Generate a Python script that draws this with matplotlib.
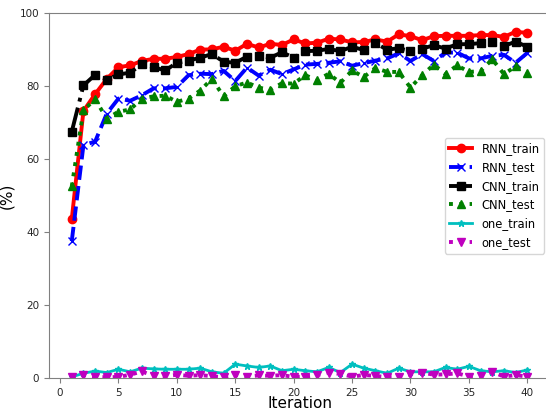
import numpy as np
import matplotlib
matplotlib.use("Agg")
import matplotlib.pyplot as plt

iterations = np.arange(1, 41)

rnn_train = [43.5, 73.2, 77.8, 82.0, 85.2, 85.7, 86.9, 87.5, 87.5, 88.0,
             88.8, 90.0, 90.1, 90.8, 89.7, 91.6, 90.6, 91.6, 91.3, 92.8,
             91.7, 91.9, 93.0, 92.8, 92.0, 92.1, 92.8, 92.2, 94.2, 93.7,
             92.6, 93.7, 93.8, 93.8, 93.8, 94.0, 94.0, 93.5, 94.9, 94.6]
rnn_test = [37.5, 63.8, 64.8, 72.5, 76.6, 76.0, 77.5, 79.4, 79.4, 79.8,
            83.0, 83.4, 83.3, 84.2, 81.4, 85.1, 82.9, 84.5, 83.3, 84.6,
            85.9, 86.1, 86.4, 86.8, 85.6, 86.3, 87.0, 87.6, 89.0, 86.9,
            88.8, 86.9, 89.2, 89.2, 87.6, 87.6, 88.3, 88.6, 86.4, 89.1]
cnn_train = [67.5, 80.2, 83.1, 81.8, 83.2, 83.7, 86.0, 85.2, 84.3, 86.4,
             87.0, 87.8, 88.8, 86.7, 86.4, 88.1, 88.2, 87.8, 89.3, 87.8,
             89.6, 89.7, 90.2, 89.6, 90.8, 89.9, 91.8, 90.0, 90.4, 89.6,
             90.3, 91.2, 90.3, 91.5, 91.5, 91.8, 92.1, 91.0, 92.2, 90.8]
cnn_test = [52.5, 73.4, 76.4, 71.1, 73.0, 73.6, 76.6, 77.2, 77.4, 75.7,
            76.6, 78.8, 82.0, 77.2, 80.0, 81.0, 79.6, 79.0, 80.8, 80.7,
            83.0, 81.6, 83.4, 80.9, 84.3, 82.5, 85.0, 83.9, 83.9, 79.6,
            83.0, 85.9, 83.3, 85.7, 83.9, 84.1, 87.4, 83.3, 85.4, 83.6]
one_train = [0.3, 1.3, 1.9, 1.5, 2.4, 1.7, 2.7, 2.5, 2.4, 2.4,
             2.4, 2.7, 1.7, 1.3, 3.8, 3.3, 2.9, 3.3, 2.0, 2.4,
             2.0, 1.7, 2.9, 1.5, 3.8, 2.7, 2.0, 1.3, 2.7, 1.7,
             1.7, 1.7, 2.9, 2.4, 3.2, 2.0, 1.7, 2.0, 1.5, 2.2]
one_test = [0.3, 0.8, 0.4, 0.2, 0.3, 0.9, 1.8, 0.6, 0.5, 0.9,
            0.6, 0.8, 0.5, 0.2, 0.9, 0.4, 0.7, 0.6, 0.8, 0.3,
            0.4, 0.8, 1.5, 1.1, 0.4, 0.8, 0.6, 0.2, 0.2, 1.0,
            1.5, 0.9, 1.0, 1.3, 0.4, 0.6, 1.7, 0.4, 0.8, 0.4]

fig = plt.figure(figsize=(5.46, 4.12), dpi=100)
ax = fig.add_axes([0.0897, 0.0825, 0.9177, 0.8855])

ax.plot(iterations, rnn_train, "r-o", lw=2.8, markersize=6, label="RNN_train")
ax.plot(iterations, rnn_test, "b--x", lw=2.8, markersize=6, label="RNN_test")
ax.plot(iterations, cnn_train, "k-.s", lw=2.8, markersize=6, label="CNN_train")
ax.plot(iterations, cnn_test, "g:^", lw=2.8, markersize=6, label="CNN_test")
ax.plot(iterations, one_train, "c-*", lw=2, markersize=5, label="one_train")
ax.plot(iterations, one_test, "m:v", lw=2.8, markersize=6, label="one_test")

ax.set_ylim(0, 100)
ax.set_xticks(range(0, 41, 5))
ax.set_yticks(range(0, 101, 20))
ax.tick_params(labelsize=7.5, colors="0.5", labelcolor="0.15")
for s in ax.spines.values():
    s.set_color("0.5")
ax.set_xlabel("Iteration", fontsize=11, labelpad=-1)
ax.set_ylabel("(%)", fontsize=11)
ax.legend(loc="center right", fontsize=8.3)

fig.savefig("out.png", dpi=100)
